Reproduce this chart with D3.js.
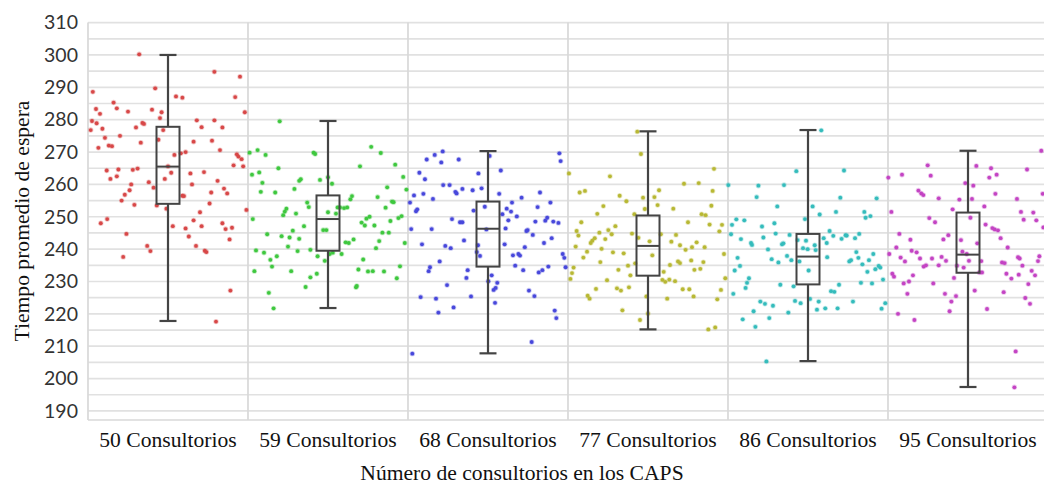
<!DOCTYPE html>
<html>
<head>
<meta charset="utf-8">
<script src="https://cdn.jsdelivr.net/npm/d3@7"></script>
<style>
  html, body { margin: 0; padding: 0; background: #fff; }
  svg { display: block; }
</style>
</head>
<body>
<svg id="chart" width="1044" height="489"></svg>
<script>
// Categories (number of consulting rooms)
const categories = ["50 Consultorios", "59 Consultorios", "68 Consultorios", "77 Consultorios", "86 Consultorios", "95 Consultorios"];

// Box summaries: [min, q1, median, q3, max]
const boxStats = [
  [217.8, 254.0, 265.5, 277.8, 300.0],
  [221.8, 239.5, 249.3, 256.6, 279.6],
  [207.8, 234.6, 246.3, 254.7, 270.3],
  [215.2, 231.8, 241.0, 250.4, 276.4],
  [205.4, 229.1, 237.7, 244.7, 276.8],
  [197.4, 232.7, 238.3, 251.3, 270.4]
];

// Observations per category: [jitter (0..1 across the band), waiting time]
const obs50 = [
  [0.32,300.2],[0.79,294.8],[0.95,293.3],[0.03,288.6],[0.42,289.7],[0.55,287.2],[0.59,286.8],[0.92,287.0],
  [0.16,285.3],[0.18,283.5],[0.05,283.3],[0.075,281.8],[0.25,282.5],[0.40,283.1],[0.46,282.3],[0.98,282.3],
  [0.025,279.6],[0.054,278.9],[0.017,276.8],[0.09,277.2],[0.34,279.0],[0.35,278.7],[0.30,277.6],[0.45,280.5],
  [0.68,279.8],[0.79,279.8],[0.71,277.7],[0.84,277.6],[0.47,276.8],[0.106,274.4],[0.20,275.0],[0.44,273.8],
  [0.33,272.9],[0.66,273.2],[0.775,273.5],[0.065,271.3],[0.13,272.0],[0.15,271.8],[0.825,270.6],[0.54,269.1],
  [0.58,269.6],[0.61,270.0],[0.93,269.3],[0.94,268.6],[0.96,267.8],[0.91,265.9],[0.97,265.6],[0.50,265.6],
  [0.117,264.3],[0.19,264.6],[0.28,264.5],[0.31,264.9],[0.52,263.6],[0.64,263.4],[0.725,263.8],[0.14,261.7],
  [0.18,262.5],[0.48,261.7],[0.38,260.7],[0.81,261.1],[0.27,260.0],[0.41,259.0],[0.65,260.0],[0.26,258.2],
  [0.85,258.7],[0.87,257.2],[0.23,256.8],[0.59,256.5],[0.60,256.4],[0.77,257.5],[0.21,255.0],[0.29,253.7],
  [0.43,253.5],[0.76,254.1],[0.49,252.5],[0.99,252.1],[0.70,251.4],[0.66,248.9],[0.08,248.0],[0.12,249.3],
  [0.53,247.1],[0.61,246.4],[0.71,247.1],[0.84,248.0],[0.86,246.2],[0.90,246.6],[0.63,243.9],[0.885,243.0],
  [0.24,244.7],[0.675,241.0],[0.73,239.5],[0.74,239.1],[0.37,241.0],[0.39,239.4],[0.22,237.6],[0.89,227.2],
  [0.80,217.6]
];
const obs59 = [
  [0.198,279.5],[0.01,269.8],[0.06,270.6],[0.11,269.1],[0.41,269.8],[0.42,269.4],[0.77,271.6],[0.83,269.7],
  [0.19,265.0],[0.025,263.0],[0.07,263.7],[0.70,265.6],[0.92,266.1],[0.09,260.5],[0.32,261.1],[0.33,261.6],
  [0.45,261.4],[0.50,262.2],[0.525,260.2],[0.97,262.3],[0.08,257.7],[0.17,257.5],[0.29,258.6],[0.87,259.1],
  [0.99,258.4],[0.65,256.4],[0.64,255.4],[0.81,256.1],[0.90,254.7],[0.91,254.5],[0.37,254.4],[0.38,253.0],
  [0.56,252.9],[0.575,252.9],[0.60,252.7],[0.62,252.9],[0.86,252.8],[0.24,252.5],[0.23,251.6],[0.22,250.5],
  [0.30,251.0],[0.50,251.4],[0.55,251.0],[0.03,249.3],[0.76,250.0],[0.74,249.4],[0.71,248.2],[0.73,247.3],
  [0.79,247.3],[0.89,248.7],[0.94,249.6],[0.96,250.2],[0.35,247.1],[0.28,245.7],[0.47,245.9],[0.49,245.9],
  [0.12,244.6],[0.21,244.0],[0.26,243.6],[0.32,243.2],[0.84,245.1],[0.88,245.1],[0.66,243.0],[0.61,242.1],
  [0.63,241.9],[0.82,242.5],[0.98,241.9],[0.25,240.8],[0.31,239.4],[0.39,239.8],[0.80,240.3],[0.05,239.6],
  [0.10,238.9],[0.435,237.8],[0.51,238.5],[0.53,238.9],[0.585,238.5],[0.18,237.8],[0.14,236.7],[0.48,236.4],
  [0.72,236.8],[0.15,234.6],[0.95,234.7],[0.04,233.2],[0.27,233.2],[0.69,233.7],[0.75,233.1],[0.78,233.2],
  [0.85,233.1],[0.43,232.4],[0.39,231.3],[0.93,231.0],[0.36,228.3],[0.675,228.2],[0.68,228.6],[0.13,226.5],
  [0.16,221.7]
];
const obs68 = [
  [0.217,270.2],[0.167,269.1],[0.117,267.7],[0.208,266.8],[0.317,267.7],[0.51,268.8],[0.946,269.6],[0.954,267.2],
  [0.071,263.6],[0.106,261.6],[0.44,263.4],[0.58,264.3],[0.22,259.8],[0.26,259.8],[0.296,257.7],[0.304,257.2],
  [0.34,258.6],[0.404,258.2],[0.46,258.8],[0.0375,256.6],[0.096,257.1],[0.156,255.5],[0.57,257.1],[0.825,257.5],
  [0.0125,254.4],[0.71,255.9],[0.65,254.4],[0.89,254.4],[0.81,253.0],[0.05,251.7],[0.058,252.3],[0.41,251.9],
  [0.48,253.1],[0.617,252.5],[0.644,251.6],[0.59,250.8],[0.68,250.1],[0.275,249.3],[0.325,248.3],[0.34,248.3],
  [0.627,248.9],[0.796,248.5],[0.858,248.8],[0.87,249.7],[0.908,248.5],[0.94,248.1],[0.02,246.2],[0.148,246.2],
  [0.49,246.1],[0.61,246.4],[0.74,245.6],[0.748,245.9],[0.78,244.4],[0.898,243.4],[0.35,242.7],[0.0875,241.5],
  [0.233,241.0],[0.267,240.3],[0.4375,241.2],[0.604,241.5],[0.73,240.6],[0.85,241.9],[0.43,239.1],[0.45,237.9],
  [0.656,238.1],[0.69,238.5],[0.70,238.0],[0.967,238.5],[0.977,237.3],[0.198,236.2],[0.67,234.9],[0.72,233.5],
  [0.877,234.6],[0.985,234.4],[0.1375,234.4],[0.129,233.2],[0.373,233.5],[0.817,232.8],[0.84,233.5],[0.365,231.1],
  [0.523,231.9],[0.502,230.1],[0.558,229.6],[0.244,228.9],[0.548,228.0],[0.535,227.4],[0.756,227.2],[0.79,225.5],
  [0.079,225.2],[0.175,224.7],[0.394,225.4],[0.544,223.4],[0.19,220.4],[0.285,222.0],[0.917,221.0],[0.927,218.7],
  [0.773,211.3],[0.027,207.7]
];
const obs77 = [
  [0.433,276.3],[0.456,269.4],[0.9125,264.8],[0.006,263.4],[0.2625,262.5],[0.725,260.2],[0.817,260.4],[0.904,258.0],
  [0.073,257.5],[0.106,258.0],[0.569,258.2],[0.323,256.5],[0.469,255.9],[0.54,256.1],[0.365,254.8],[0.56,253.6],
  [0.221,253.3],[0.896,253.4],[0.48,252.4],[0.658,252.5],[0.183,250.9],[0.415,250.8],[0.835,250.8],[0.86,250.5],
  [0.083,248.3],[0.75,248.3],[0.885,247.6],[0.9625,247.5],[0.296,247.1],[0.252,245.9],[0.273,244.6],[0.196,245.1],
  [0.054,245.6],[0.065,244.2],[0.167,243.4],[0.152,242.6],[0.142,241.9],[0.233,243.1],[0.40,244.8],[0.44,243.5],
  [0.58,244.6],[0.675,244.4],[0.946,245.5],[0.51,242.4],[0.646,242.3],[0.804,242.1],[0.70,241.2],[0.775,240.6],
  [0.048,240.8],[0.21,240.1],[0.735,239.8],[0.854,240.6],[0.119,239.2],[0.281,239.0],[0.348,238.7],[0.527,238.1],
  [0.975,238.5],[0.096,237.4],[0.202,236.0],[0.42,235.6],[0.6875,236.2],[0.70,235.7],[0.77,236.5],[0.846,236.0],
  [0.035,234.3],[0.375,234.9],[0.6375,235.1],[0.79,233.6],[0.827,233.9],[0.315,233.6],[0.025,232.6],[0.598,233.0],
  [0.39,231.9],[0.015,230.8],[0.244,230.4],[0.59,230.5],[0.608,229.9],[0.633,230.6],[0.669,230.1],[0.983,231.0],
  [0.175,227.7],[0.306,227.9],[0.331,227.2],[0.381,228.2],[0.717,227.6],[0.758,227.6],[0.956,227.4],[0.123,225.6],
  [0.135,224.7],[0.49,225.4],[0.62,224.7],[0.785,225.4],[0.933,224.5],[0.34,221.1],[0.50,220.1],[0.45,218.1],
  [0.877,215.2],[0.92,215.8]
];
const obs86 = [
  [0.583,276.7],[0.427,264.1],[0.725,264.3],[0.002,259.8],[0.19,259.6],[0.35,259.8],[0.179,256.1],[0.702,255.9],
  [0.929,255.7],[0.308,253.2],[0.529,253.2],[0.675,251.5],[0.852,251.5],[0.86,249.7],[0.89,250.2],[0.573,250.7],
  [0.481,249.3],[0.052,249.2],[0.102,248.9],[0.025,247.5],[0.29,248.0],[0.2125,247.0],[0.635,245.6],[0.019,244.6],
  [0.221,243.6],[0.298,244.8],[0.385,244.4],[0.658,244.1],[0.598,243.4],[0.735,244.3],[0.742,244.2],[0.794,243.4],
  [0.82,244.7],[0.71,243.2],[0.081,243.1],[0.144,241.9],[0.15,241.3],[0.346,241.8],[0.3375,241.5],[0.435,242.8],
  [0.4875,242.6],[0.617,241.9],[0.469,240.3],[0.498,240.0],[0.542,241.2],[0.548,239.7],[0.25,239.9],[0.802,239.1],
  [0.908,238.5],[0.369,237.9],[0.06,237.3],[0.273,236.9],[0.396,236.6],[0.62,237.5],[0.758,236.2],[0.769,236.6],
  [0.815,237.3],[0.881,236.6],[0.315,235.9],[0.446,236.2],[0.075,234.8],[0.84,235.3],[0.942,234.8],[0.042,233.4],
  [0.504,233.4],[0.871,233.0],[0.921,233.8],[0.952,234.3],[0.131,231.0],[0.119,229.6],[0.11,228.0],[0.327,229.0],
  [0.41,228.5],[0.694,229.0],[0.831,229.6],[0.90,229.4],[0.969,230.6],[0.033,226.2],[0.644,227.0],[0.665,226.8],
  [0.202,223.8],[0.231,223.1],[0.281,222.5],[0.419,224.0],[0.454,223.3],[0.5125,224.6],[0.567,223.8],[0.781,223.8],
  [0.983,223.3],[0.16,220.8],[0.377,220.4],[0.556,221.3],[0.608,221.7],[0.685,221.7],[0.96,221.6],[0.092,218.3],
  [0.258,218.7],[0.171,216.0],[0.24,205.3]
];
const obs95 = [
  [0.958,270.4],[0.248,265.9],[0.552,265.7],[0.644,265.0],[0.869,264.6],[0.002,262.1],[0.0875,263.0],[0.267,262.7],
  [0.633,262.1],[0.679,263.0],[0.483,260.4],[0.533,259.6],[0.19,258.1],[0.208,257.2],[0.221,256.7],[0.671,257.1],
  [0.967,257.1],[0.317,255.7],[0.446,255.3],[0.525,255.5],[0.806,255.5],[0.602,253.2],[0.404,252.3],[0.021,251.5],
  [0.831,251.5],[0.908,251.3],[0.258,249.6],[0.294,248.3],[0.515,249.7],[0.848,249.1],[0.927,248.9],[0.61,247.6],
  [0.652,246.5],[0.667,246.1],[0.6875,245.8],[0.971,246.7],[0.071,244.7],[0.377,244.3],[0.704,243.4],[0.346,243.0],
  [0.14,242.9],[0.456,242.8],[0.558,241.8],[0.052,240.5],[0.748,240.5],[0.148,239.5],[0.179,239.0],[0.008,238.5],
  [0.465,239.2],[0.492,238.5],[0.079,237.4],[0.20,237.1],[0.275,237.1],[0.335,237.6],[0.3625,236.4],[0.106,236.2],
  [0.506,236.4],[0.583,236.3],[0.8125,237.5],[0.823,237.1],[0.946,237.8],[0.9375,236.3],[0.7125,235.9],[0.729,235.7],
  [0.431,234.9],[0.317,235.0],[0.223,234.6],[0.2375,235.0],[0.84,234.9],[0.473,234.3],[0.898,233.3],[0.919,231.9],
  [0.027,232.4],[0.0375,231.5],[0.156,231.9],[0.571,232.8],[0.5875,232.8],[0.74,232.4],[0.817,232.1],[0.4125,231.1],
  [0.771,230.9],[0.098,229.4],[0.131,230.0],[0.283,229.4],[0.877,229.2],[0.542,227.2],[0.121,226.2],[0.356,226.2],
  [0.723,226.7],[0.425,225.5],[0.858,224.9],[0.396,223.8],[0.8875,223.1],[0.619,221.5],[0.385,220.8],[0.0625,220.0],
  [0.165,218.1],[0.798,208.4],[0.79,197.3]
];
const observations = [obs50, obs59, obs68, obs77, obs86, obs95];

const seriesColors = ["#d84848", "#3fc83f", "#4848dc", "#b8b835", "#35bcbc", "#c444c4"];

const yTicks = d3.range(190, 311, 10);
const gridValues = d3.range(190, 311, 5);

const xTitle = "Número de consultorios en los CAPS";
const yTitle = "Tiempo promedio de espera";

// ---- drawing ----
const svg = d3.select("#chart");
const plot = { left: 88, right: 1048, top: 22.6, bottom: 420 };
const serif = "'Liberation Serif', 'Times New Roman', serif";

const x = d3.scaleBand().domain(categories).range([plot.left, plot.right]).padding(0);
const y = d3.scaleLinear().domain([187.2, 310]).range([plot.bottom, plot.top]);

// horizontal gridlines every 5 units
svg.append("g").selectAll("line").data(gridValues).join("line")
  .attr("x1", plot.left).attr("x2", plot.right)
  .attr("y1", d => y(d)).attr("y2", d => y(d))
  .attr("stroke", "#e1e1e1").attr("stroke-width", 1.7);

// vertical category separators and frame
const seps = categories.map(c => x(c)).concat([plot.right]);
svg.append("g").selectAll("line").data(seps).join("line")
  .attr("x1", d => d).attr("x2", d => d)
  .attr("y1", plot.top).attr("y2", plot.bottom)
  .attr("stroke", "#d8d8d8").attr("stroke-width", 1.7);
svg.append("line")
  .attr("x1", plot.left).attr("x2", plot.right)
  .attr("y1", plot.bottom).attr("y2", plot.bottom)
  .attr("stroke", "#d8d8d8").attr("stroke-width", 1.7);

// jittered observations
const pts = svg.append("g");
observations.forEach((series, i) => {
  const c = categories[i];
  pts.append("g").selectAll("circle").data(series).join("circle")
    .attr("cx", d => x(c) + d[0] * x.bandwidth())
    .attr("cy", d => y(d[1]))
    .attr("r", 1.9)
    .attr("fill", seriesColors[i])
    .attr("stroke", seriesColors[i])
    .attr("stroke-opacity", 0.3)
    .attr("stroke-width", 1.6);
});

// box plots
const boxW = 23, capW = 17, boxColor = "#444";
const boxes = svg.append("g").selectAll("g").data(boxStats).join("g")
  .attr("transform", (d, i) => `translate(${x(categories[i]) + x.bandwidth() / 2},0)`);
boxes.append("line")
  .attr("x1", 0).attr("x2", 0)
  .attr("y1", d => y(d[4])).attr("y2", d => y(d[3]))
  .attr("stroke", boxColor).attr("stroke-width", 2.2);
boxes.append("line")
  .attr("x1", 0).attr("x2", 0)
  .attr("y1", d => y(d[1])).attr("y2", d => y(d[0]))
  .attr("stroke", boxColor).attr("stroke-width", 2.2);
boxes.append("line")
  .attr("x1", -capW / 2).attr("x2", capW / 2)
  .attr("y1", d => y(d[4])).attr("y2", d => y(d[4]))
  .attr("stroke", boxColor).attr("stroke-width", 2.2);
boxes.append("line")
  .attr("x1", -capW / 2).attr("x2", capW / 2)
  .attr("y1", d => y(d[0])).attr("y2", d => y(d[0]))
  .attr("stroke", boxColor).attr("stroke-width", 2.2);
boxes.append("rect")
  .attr("x", -boxW / 2).attr("width", boxW)
  .attr("y", d => y(d[3])).attr("height", d => y(d[1]) - y(d[3]))
  .attr("fill", "none").attr("stroke", boxColor).attr("stroke-width", 2);
boxes.append("line")
  .attr("x1", -boxW / 2).attr("x2", boxW / 2)
  .attr("y1", d => y(d[2])).attr("y2", d => y(d[2]))
  .attr("stroke", boxColor).attr("stroke-width", 2);

// y axis labels
const yAxis = svg.append("g")
  .attr("transform", `translate(${plot.left - 10},0)`)
  .call(d3.axisLeft(y).tickValues(yTicks).tickSize(0).tickPadding(0).tickFormat(d3.format("d")));
yAxis.select(".domain").remove();
yAxis.selectAll("text")
  .attr("font-family", "Lato, 'Open Sans', sans-serif")
  .attr("font-size", 19.5)
  .attr("fill", "#333");

// x axis labels
const xAxis = svg.append("g")
  .attr("transform", `translate(0,${plot.bottom})`)
  .call(d3.axisBottom(x).tickSize(0).tickPadding(0));
xAxis.select(".domain").remove();
xAxis.selectAll("text")
  .attr("dy", null)
  .attr("y", 27)
  .attr("font-family", serif)
  .attr("font-size", 21.6)
  .attr("fill", "#111");

// axis titles
svg.append("text")
  .attr("x", 522).attr("y", 480)
  .attr("text-anchor", "middle")
  .attr("font-family", serif)
  .attr("font-size", 21.6).attr("fill", "#111")
  .text(xTitle);
svg.append("text")
  .attr("transform", "translate(29,221) rotate(-90)")
  .attr("text-anchor", "middle")
  .attr("font-family", serif)
  .attr("font-size", 21.6).attr("fill", "#111")
  .text(yTitle);
</script>
</body>
</html>
